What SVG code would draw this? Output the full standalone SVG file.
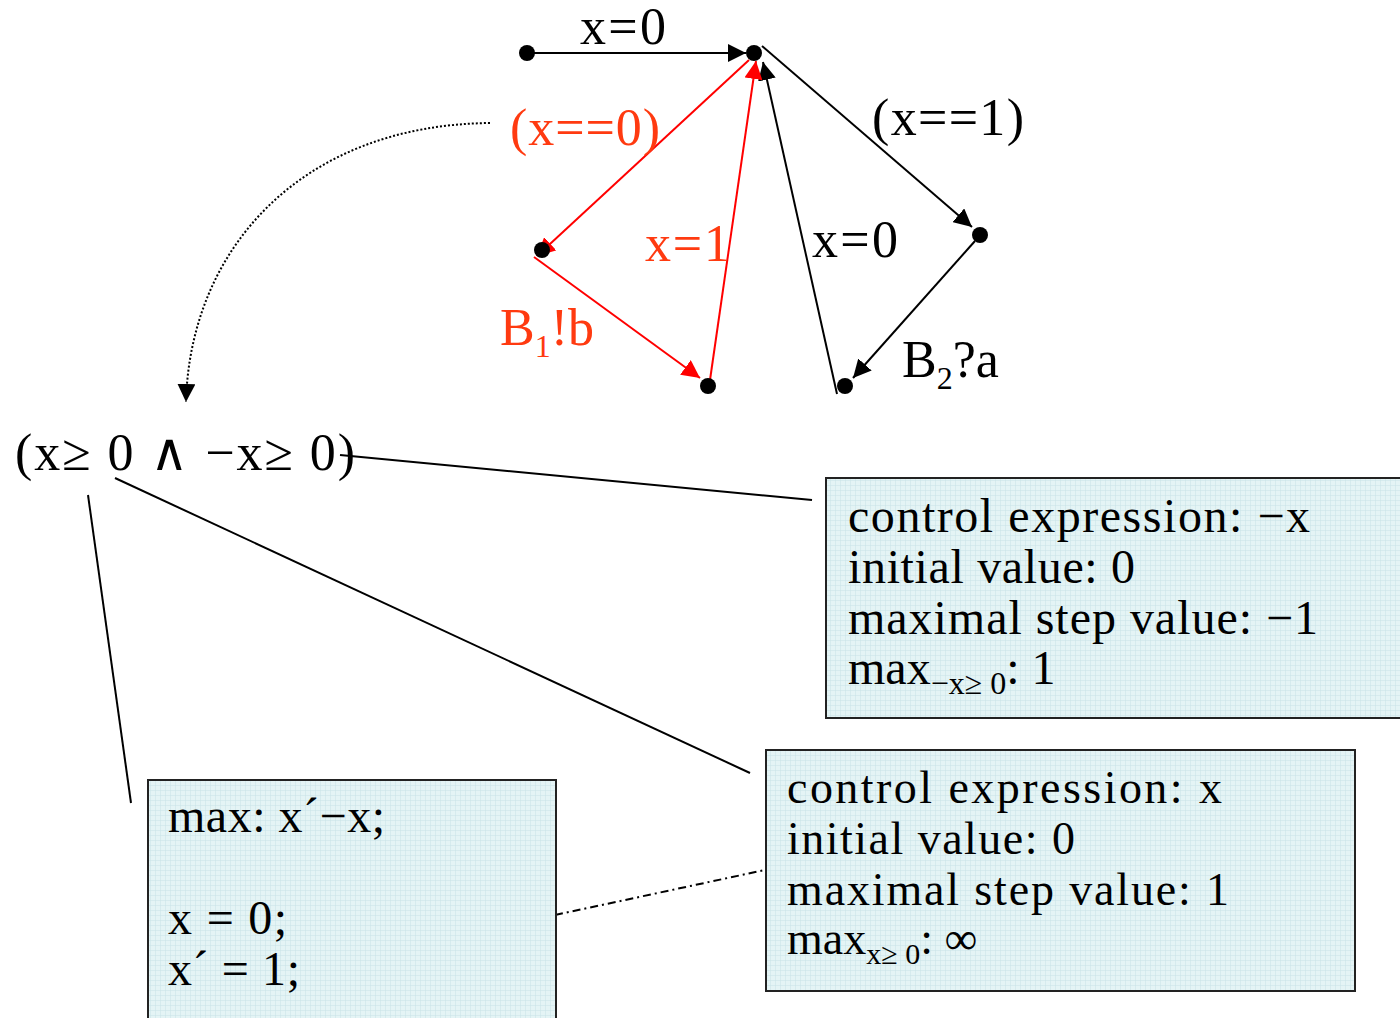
<svg xmlns="http://www.w3.org/2000/svg" width="1400" height="1018" viewBox="0 0 1400 1018">
<style>
text{font-family:"Liberation Serif","DejaVu Serif",serif;font-size:48px;fill:#000}
.lbl{font-size:52px}
.red{fill:#ff3a10}
.sub{font-size:32px}
.bx text{font-size:46px}
.bx .sub{font-size:30px}
.box{fill:url(#grid);stroke:#222;stroke-width:2}
.e{stroke:#000;stroke-width:2;fill:none}
.r{stroke:#ff0000;stroke-width:2;fill:none}
.dot{fill:#000}
</style>
<defs>
<pattern id="grid" width="5" height="5" patternUnits="userSpaceOnUse">
<rect width="5" height="5" fill="#e4f4f5"/>
<path d="M0 0H5M0 0V5" stroke="#c9e3e7" stroke-width="1"/>
</pattern>
<marker id="ab2" viewBox="0 0 10 10" refX="10" refY="5" markerWidth="18" markerHeight="18" markerUnits="userSpaceOnUse" orient="auto"><path d="M0 0L10 5L0 10z" fill="#000"/></marker>
<marker id="ar" viewBox="0 0 10 10" refX="10" refY="5" markerWidth="18" markerHeight="18" markerUnits="userSpaceOnUse" orient="auto"><path d="M0 0L10 5L0 10z" fill="#ff0000"/></marker>
</defs>

<g id="connectors">
<line class="e" x1="527" y1="53" x2="746" y2="53" marker-end="url(#ab2)"/>
<line class="e" x1="762" y1="46" x2="972" y2="227" marker-end="url(#ab2)"/>
<line class="e" x1="975" y1="241" x2="853" y2="378" marker-end="url(#ab2)"/>
<line class="e" x1="837" y1="394" x2="763" y2="62" marker-end="url(#ab2)"/>
<line class="r" x1="749" y1="60" x2="537" y2="256" marker-end="url(#ar)"/>
<line class="r" x1="534" y1="257" x2="700" y2="378" marker-end="url(#ar)"/>
<line class="r" x1="710" y1="380" x2="756" y2="61" marker-end="url(#ar)"/>
<path d="M490 123C300 125 190 250 186 402" stroke="#000" stroke-width="2" stroke-dasharray="2 2" fill="none" marker-end="url(#ab2)"/>
<line class="e" x1="340" y1="455" x2="812" y2="500"/>
<line class="e" x1="115" y1="478" x2="750" y2="773"/>
<line class="e" x1="88" y1="495" x2="131" y2="803"/>
<line class="e" x1="555" y1="915" x2="765" y2="870" stroke-width="1.5" stroke-dasharray="8 4 2 4"/>
</g>

<g id="states">
<circle class="dot" cx="527" cy="53" r="8"/>
<circle class="dot" cx="754" cy="53" r="8"/>
<circle class="dot" cx="980" cy="235" r="8"/>
<circle class="dot" cx="542" cy="250" r="8"/>
<circle class="dot" cx="708" cy="386" r="8"/>
<circle class="dot" cx="845" cy="386" r="8"/>
</g>

<g id="labels">
<text class="lbl" x="580" y="44" textLength="86">x=0</text>
<text class="lbl red" x="510" y="145" textLength="150">(x==0)</text>
<text class="lbl" x="872" y="135" textLength="152">(x==1)</text>
<text class="lbl red" x="645" y="261" textLength="85">x=1</text>
<text class="lbl" x="812" y="257" textLength="86">x=0</text>
<text class="lbl red" x="500" y="345">B<tspan class="sub" dy="12">1</tspan><tspan dy="-12">!b</tspan></text>
<text class="lbl" x="902" y="377">B<tspan class="sub" dy="12">2</tspan><tspan dy="-12">?a</tspan></text>
</g>

<g id="guard">
<text class="lbl" x="15" y="470" textLength="340">(x≥ 0 ∧ −x≥ 0)</text>
</g>

<g id="box-negx">
<rect class="box" x="826" y="478" width="580" height="240"/>
<text x="848" y="532" textLength="462">control expression: −x</text>
<text x="848" y="583" textLength="287">initial value: 0</text>
<text x="848" y="634" textLength="470">maximal step value: −1</text>
<text x="848" y="684">max<tspan class="sub" dy="10">−x≥ 0</tspan><tspan dy="-10">: 1</tspan></text>
</g>

<g id="box-x" class="bx">
<rect class="box" x="766" y="750" width="589" height="241"/>
<text x="787" y="803" textLength="435">control expression: x</text>
<text x="787" y="854" textLength="288">initial value: 0</text>
<text x="787" y="905" textLength="442">maximal step value: 1</text>
<text x="787" y="954">max<tspan class="sub" dy="10">x≥ 0</tspan><tspan dy="-10">: ∞</tspan></text>
</g>

<g id="box-code">
<rect class="box" x="148" y="780" width="408" height="250"/>
<text x="168" y="832" textLength="217">max: x´−x;</text>
<text x="168" y="934" textLength="119">x = 0;</text>
<text x="168" y="985" textLength="132">x´ = 1;</text>
</g>
</svg>
